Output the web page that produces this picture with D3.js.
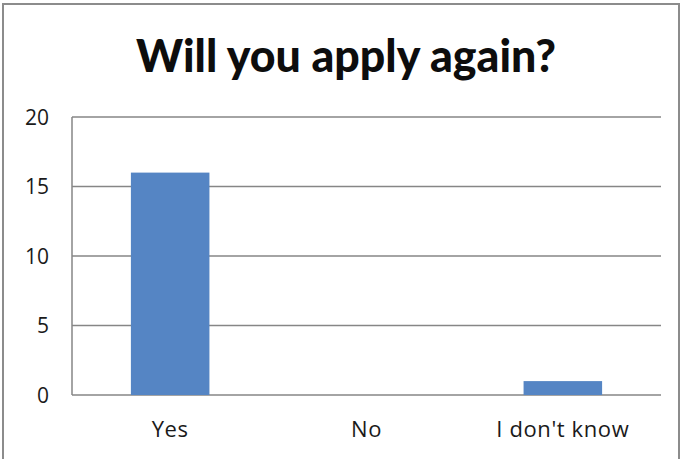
<!DOCTYPE html>
<html>
<head>
<meta charset="utf-8">
<script src="https://cdn.jsdelivr.net/npm/d3@7"></script>
<style>
    body { margin: 0; background: #fff; }
    svg { display: block; }
</style>
</head>
<body>
<div id="chart"></div>
<script>
// Chart data
const categories = ['Yes', 'No', "I don't know"];
const counts = [16, 0, 1];
const yTicks = [0, 5, 10, 15, 20];
const chartTitle = 'Will you apply again?';

const width = 681;
const height = 459;
const margin = { top: 117, right: 20, bottom: 64, left: 72 };

const svg = d3.select('#chart')
    .append('svg')
    .attr('width', width)
    .attr('height', height);

// outer frame of the picture
svg.append('rect')
    .attr('x', 3)
    .attr('y', 4)
    .attr('width', 676)
    .attr('height', 470)
    .attr('fill', 'white')
    .attr('stroke', '#8c8c8c')
    .attr('stroke-width', 2);

const x = d3.scaleBand()
    .domain(categories)
    .range([margin.left, width - margin.right])
    .paddingInner(0.6)
    .paddingOuter(0.3);

const y = d3.scaleLinear()
    .domain([0, 20])
    .range([height - margin.bottom, margin.top]);

// gridlines
svg.append('g')
    .selectAll('line')
    .data(yTicks)
    .enter()
    .append('line')
    .attr('x1', margin.left)
    .attr('x2', width - margin.right)
    .attr('y1', d => y(d))
    .attr('y2', d => y(d))
    .attr('stroke', '#868686')
    .attr('stroke-width', 1.5);

// left axis line
svg.append('line')
    .attr('x1', margin.left)
    .attr('x2', margin.left)
    .attr('y1', y(20))
    .attr('y2', y(0))
    .attr('stroke', '#868686')
    .attr('stroke-width', 1.5);

// bars
svg.append('g')
    .selectAll('rect')
    .data(counts)
    .enter()
    .append('rect')
    .attr('x', (d, i) => x(categories[i]))
    .attr('y', d => y(d))
    .attr('width', x.bandwidth())
    .attr('height', d => y(0) - y(d))
    .attr('fill', '#5585c4');

// y tick labels
svg.append('g')
    .selectAll('text')
    .data(yTicks)
    .enter()
    .append('text')
    .attr('x', 49)
    .attr('y', d => y(d))
    .attr('dy', '0.36em')
    .attr('text-anchor', 'end')
    .style('font-family', '"Open Sans", sans-serif')
    .style('font-size', '21px')
    .attr('fill', '#1a1a1a')
    .text(d => d);

// category labels
svg.append('g')
    .selectAll('text')
    .data(categories)
    .enter()
    .append('text')
    .attr('x', d => x(d) + x.bandwidth() / 2)
    .attr('y', 437)
    .attr('text-anchor', 'middle')
    .style('font-family', '"Open Sans", sans-serif')
    .style('font-size', '22px')
    .style('letter-spacing', '0.6px')
    .attr('fill', '#1a1a1a')
    .text(d => d);

// title
svg.append('text')
    .attr('x', 346)
    .attr('y', 72)
    .attr('text-anchor', 'middle')
    .attr('textLength', 420)
    .attr('lengthAdjust', 'spacingAndGlyphs')
    .style('font-family', 'Lato, sans-serif')
    .style('font-weight', '900')
    .style('font-size', '46px')
    .attr('fill', '#0d0d0d')
    .text(chartTitle);
</script>
</body>
</html>
